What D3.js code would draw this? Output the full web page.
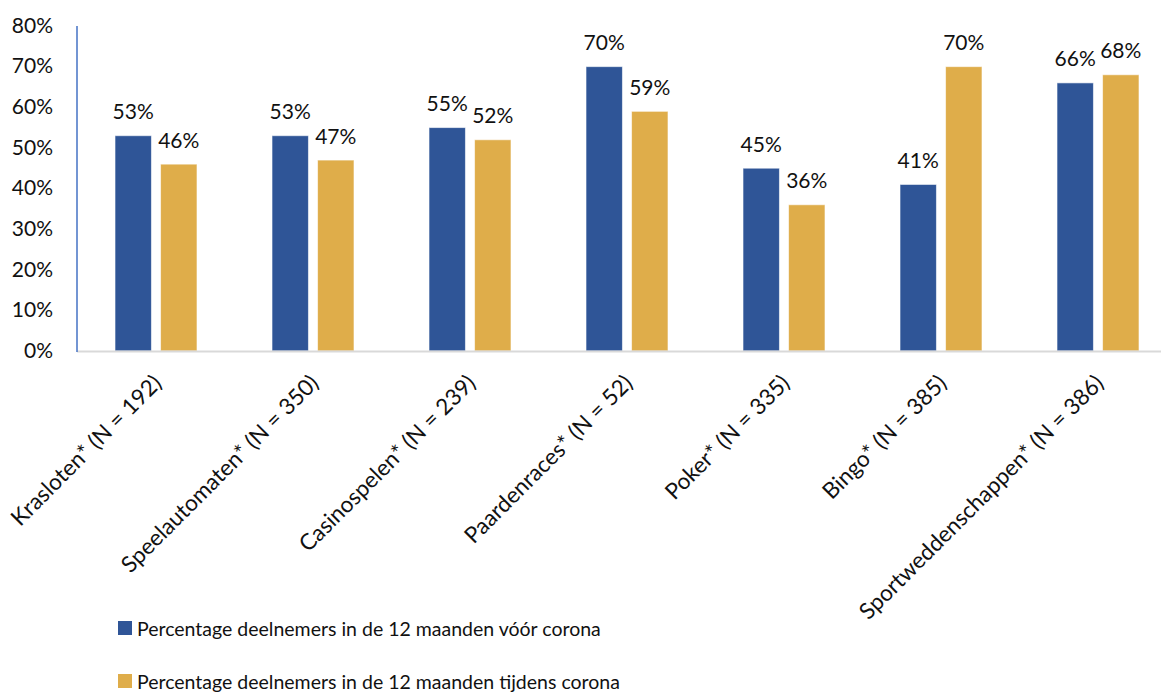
<!DOCTYPE html>
<html>
<head>
<meta charset="utf-8">
<script src="https://cdn.jsdelivr.net/npm/d3@7/dist/d3.min.js"></script>
<style>
  html, body { margin: 0; padding: 0; background: #fff; }
  svg { display: block; font-family: Lato, "Open Sans", sans-serif; }
</style>
</head>
<body>
<svg id="chart" width="1161" height="694"></svg>
<script>
// Gambling participation per game type, before vs. during corona
const categories = [
  "Krasloten* (N = 192)",
  "Speelautomaten* (N = 350)",
  "Casinospelen* (N = 239)",
  "Paardenraces* (N = 52)",
  "Poker* (N = 335)",
  "Bingo* (N = 385)",
  "Sportweddenschappen* (N = 386)"
];
const seriesNames = [
  "Percentage deelnemers in de 12 maanden vóór corona",
  "Percentage deelnemers in de 12 maanden tijdens corona"
];
const voorCorona = [53, 53, 55, 70, 45, 41, 66];
const tijdensCorona = [46, 47, 52, 59, 36, 70, 68];
const yTicks = [0, 10, 20, 30, 40, 50, 60, 70, 80];
const colors = ["#2F5597", "#DFAD4A"];

const svg = d3.select("#chart");
const plot = { left: 77, right: 1176, top: 26, bottom: 351 };

const x = d3.scaleBand().domain(categories).range([plot.left, plot.right]);
// two bars per category, 36px wide with an 8px gap, offset within each band
const xs = d3.scaleBand().domain([0, 1]).range([38, 120]).paddingInner(0.2);
const y = d3.scaleLinear().domain([0, 80]).range([plot.bottom, plot.top]);

// Y axis labels
const yAxis = d3.axisLeft(y).tickValues(yTicks).tickFormat(d => d + "%").tickSize(0).tickPadding(0);
const yg = svg.append("g").attr("transform", `translate(53,0)`).call(yAxis);
yg.select(".domain").remove();
yg.selectAll("text").attr("font-size", 21).attr("fill", "#111").attr("font-family", "Lato").attr("dy", "0.3em");

// Bars
const data = categories.map((c, i) => ({ c, vals: [voorCorona[i], tijdensCorona[i]] }));
const groups = svg.append("g").selectAll("g").data(data).join("g")
  .attr("transform", d => `translate(${x(d.c)},0)`);

groups.selectAll("rect").data(d => d.vals.map((v, k) => ({ v, k }))).join("rect")
  .attr("x", d => xs(d.k))
  .attr("width", xs.bandwidth())
  .attr("y", d => y(d.v))
  .attr("height", d => y(0) - y(d.v))
  .attr("fill", d => colors[d.k])
  .attr("stroke", "#ffffff")
  .attr("stroke-opacity", 0.6)
  .attr("stroke-width", 1);

groups.selectAll("text.val").data(d => d.vals.map((v, k) => ({ v, k }))).join("text")
  .attr("class", "val")
  .attr("x", d => xs(d.k) + xs.bandwidth() / 2)
  .attr("y", d => y(d.v) - 16.5)
  .attr("text-anchor", "middle")
  .attr("font-size", 21)
  .attr("fill", "#111")
  .text(d => d.v + "%");

// Baseline and vertical axis line
svg.append("line")
  .attr("x1", plot.left).attr("x2", 1161)
  .attr("y1", y(0) + 0.5).attr("y2", y(0) + 0.5)
  .attr("stroke", "#D9D9D9").attr("stroke-width", 2);
svg.append("line")
  .attr("x1", plot.left).attr("x2", plot.left)
  .attr("y1", plot.top).attr("y2", y(0) + 1)
  .attr("stroke", "#4472C4").attr("stroke-width", 1.5);

// Category labels, rotated
svg.append("g").selectAll("text").data(categories).join("text")
  .attr("transform", d => `translate(${x(d) + x.bandwidth() / 2 - 4},373) rotate(-45)`)
  .attr("text-anchor", "end")
  .attr("dy", "0.72em")
  .attr("font-size", 22.5)
  .attr("fill", "#111")
  .text(d => d);

// Legend
const legend = svg.append("g").selectAll("g").data(seriesNames).join("g")
  .attr("transform", (d, i) => `translate(118,${621 + i * 53})`);
legend.append("rect").attr("width", 14).attr("height", 14).attr("fill", (d, i) => colors[i]);
legend.append("text").attr("x", 19).attr("y", 8).attr("dy", "0.35em")
  .attr("font-size", 19.5).attr("fill", "#111").text(d => d);
</script>
</body>
</html>
